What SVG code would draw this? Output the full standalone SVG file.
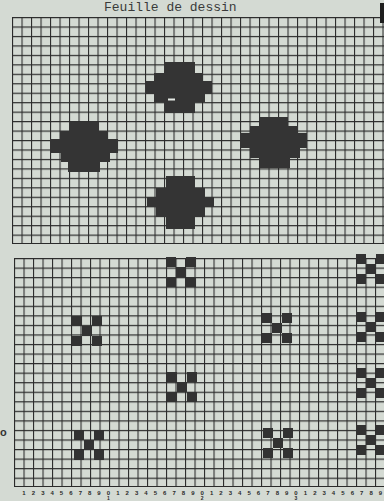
<svg xmlns="http://www.w3.org/2000/svg" width="384" height="501" viewBox="0 0 384 501">
<style>
.blob{fill:#343434}
.mot{fill:#323232}
.gl{stroke:#2b2b2b;stroke-width:1;fill:none}
.dig{font-family:"Liberation Sans",Arial,sans-serif;font-size:6px;font-weight:bold;fill:#2a2a2a;text-anchor:middle}
.sub{font-family:"Liberation Sans",Arial,sans-serif;font-size:5px;font-weight:bold;fill:#2a2a2a;text-anchor:middle}
.title{font-family:"Liberation Mono","Courier New",monospace;font-size:13px;fill:#3a3a3a}
</style>
<defs>
<pattern id="gridU" patternUnits="userSpaceOnUse" x="12" y="17" width="9.5" height="9.46">
<path d="M0.5 0V9.46M0 0.5H9.5" stroke="#2a2a2a" stroke-width="1.15" fill="none"/>
</pattern>
<pattern id="gridL" patternUnits="userSpaceOnUse" x="14" y="258" width="9.5" height="9.55">
<path d="M0.5 0V9.55M0 0.5H9.5" stroke="#2a2a2a" stroke-width="1.15" fill="none"/>
</pattern>
<g id="x">
<rect x="0" y="0" width="10" height="10"/>
<rect x="20" y="0" width="10" height="10"/>
<rect x="10" y="10" width="10" height="10"/>
<rect x="0" y="20" width="10" height="10"/>
<rect x="20" y="20" width="10" height="10"/>
</g>
</defs>
<rect width="384" height="501" fill="#d4dad3"/>
<text class="title" x="104" y="11">Feuille de dessin</text>
<g id="upper-grid">
<rect x="12" y="17" width="372" height="227" fill="url(#gridU)"/>
<path class="gl" d="M12.5 17V244M12 243.5H384" stroke-width="1.5"/>
</g>
<g id="lower-grid">
<rect x="14" y="258" width="370" height="229" fill="url(#gridL)"/>
<path class="gl" d="M14.5 258V487M14 486.5H384" stroke-width="1.5"/>
</g>
<g id="blob-left" class="blob"><path d="M69,122H99V131H108V139H118V153H110V162H100V172H68V162H61V153H50V139H60V131H69Z"/></g>
<g id="blob-top" class="blob"><path d="M164,62H195V73H203V81H212V94H205V102H195V113H164V102H154V94H145V81H154V73H164Z"/><rect x="168" y="98.5" width="7" height="2" fill="#e6ebe6"/></g>
<g id="blob-right" class="blob"><path d="M260,117H288V126H298V133H307V148H300V158H290V168H260V158H250V148H240V133H250V126H260Z"/></g>
<g id="blob-bottom" class="blob"><path d="M166,176H195V188H205V197H214V207H205V217H195V229H166V217H156V207H147V197H156V188H166Z"/></g>
<g id="motifs" class="mot">
<use href="#x" x="166" y="257"/>
<use href="#x" x="72" y="316"/>
<use href="#x" x="167" y="372"/>
<use href="#x" x="74" y="430"/>
<use href="#x" x="262" y="313"/>
<use href="#x" x="263" y="428"/>
<use href="#x" x="356" y="254"/>
<use href="#x" x="356" y="312"/>
<use href="#x" x="356" y="368"/>
<use href="#x" x="356" y="425"/>
</g>
<rect x="380" y="3" width="4" height="20" fill="#1e1e1e"/>
<g id="numbers">
<text class="dig" y="495" x="24 33.4 42.8 52.1 61.5 70.9 80.3 89.7 99 108.4 117.8 127.2 136.6 145.9 155.3 164.7 174.1 183.5 192.8 202.2 211.6 221 230.4 239.7 249.1 258.5 267.9 277.3 286.6 296 305.4 314.8 324.2 333.5 342.9 352.3 361.7 371.1 380.4">123456789012345678901234567890123456789</text>
<text class="sub" y="500" x="108.4">1</text>
<text class="sub" y="500" x="202.2">2</text>
<text class="sub" y="500" x="296">3</text>
</g>
<text x="0" y="436" style="font-family:'Liberation Sans',sans-serif;font-size:11px;font-weight:bold;fill:#333">o</text>
</svg>
